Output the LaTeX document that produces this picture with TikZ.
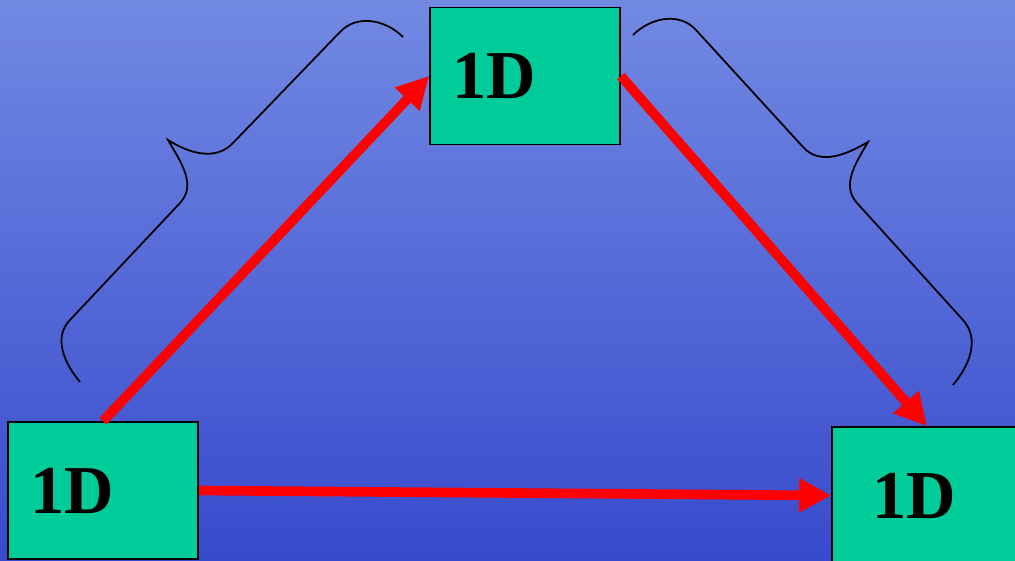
\documentclass[tikz,border=0pt]{standalone}
\usepackage{fontspec}
\setmainfont{Liberation Serif}
\usepackage{tikz}
\usetikzlibrary{arrows.meta}

\definecolor{bgtop}{RGB}{114,137,226}
\definecolor{bgbottom}{RGB}{56,74,205}
\definecolor{boxgreen}{RGB}{0,204,153}

\tikzset{
  unitbox/.style={draw=black, line width=1pt, fill=boxgreen,
    text width=2.92cm, inner xsep=0.44cm, minimum height=2.74cm,
    align=left, font=\bfseries\fontsize{39}{41}\selectfont},
  flow/.style={->, red, line width=5.5pt},
  bracket/.style={black, line width=1pt}
}

\begin{document}
\begin{tikzpicture}[x=0.02cm, y=0.02cm, >={Triangle[length=0.64cm, width=0.64cm]}]
        % background
        \useasboundingbox (0,0) rectangle (1015,-561);
        \clip (0,0) rectangle (1015,-561);
        \shade[top color=bgtop, bottom color=bgbottom] (0,0) rectangle (1015,-561);

        % braces
        \draw[bracket] (80,-382) to[out=130, in=226] (70,-320) -- (180,-203)
            to[out=47, in=-60] (168,-140) to[out=-32, in=226] (233,-143)
            -- (340,-32) to[out=47, in=135] (403,-37);
        \draw[bracket] (633,-35) to[out=45, in=132] (696,-30) -- (803,-147)
            to[out=-48, in=210] (868,-142) to[out=-120, in=132] (857,-203)
            -- (963,-320) to[out=-48, in=50] (953,-385);

        % boxes
        \node[unitbox] (top) at (525,-76) {1D};
        \node[unitbox] (left) at (103,-490.5) {1D};
        \node[unitbox] (right) at (927,-495.5) {\hspace*{0.36cm}1D};

        % arrows
        \draw[flow] (left.north) -- (top.west);
        \draw[flow] (top.east) -- (right.north);
        \draw[flow] (left.east) -- (right.west);
    \end{tikzpicture}
\end{document}
